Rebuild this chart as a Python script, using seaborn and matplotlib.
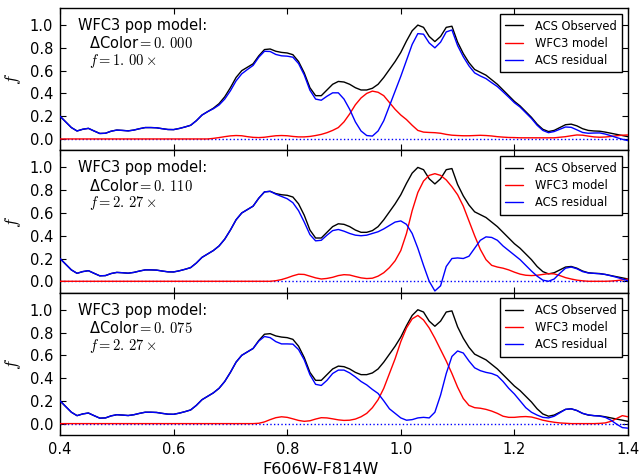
import numpy as np
import pandas as pd
import matplotlib
matplotlib.use("Agg")
import matplotlib.pyplot as plt
import seaborn as sns

# ---------------- data ----------------
color_grid = np.round(np.arange(0.40, 1.4001, 0.01), 2)

acs_observed = [
    0.20, 0.15, 0.10, 0.07, 0.085, 0.093, 0.07, 0.048, 0.05, 0.068,
    0.078, 0.075, 0.071, 0.078, 0.09, 0.10, 0.10, 0.098, 0.09, 0.083,
    0.082, 0.092, 0.105, 0.12, 0.16, 0.21, 0.24, 0.27, 0.31, 0.37,
    0.45, 0.54, 0.60, 0.63, 0.66, 0.73, 0.785, 0.79, 0.77, 0.76,
    0.755, 0.74, 0.68, 0.58, 0.45, 0.38, 0.38, 0.43, 0.48, 0.505,
    0.50, 0.48, 0.45, 0.43, 0.43, 0.445, 0.48, 0.54, 0.61, 0.68,
    0.76, 0.86, 0.95, 1.00, 0.98, 0.90, 0.855, 0.90, 0.98, 0.99,
    0.85, 0.75, 0.67, 0.61, 0.585, 0.56, 0.52, 0.48, 0.43, 0.38,
    0.33, 0.29, 0.24, 0.19, 0.13, 0.085, 0.065, 0.075, 0.10, 0.125,
    0.13, 0.115, 0.09, 0.075, 0.07, 0.068, 0.06, 0.05, 0.04, 0.03,
    0.02,
]

# panel 1: dColor = 0.000, f = 1.00
wfc3_model_1 = [0.0] * 27 + [
    0.005, 0.012, 0.02, 0.027, 0.03, 0.028, 0.02, 0.014, 0.012, 0.015,
    0.022, 0.028, 0.03, 0.028, 0.022, 0.018, 0.018, 0.022, 0.03, 0.04,
    0.055, 0.075, 0.10, 0.15, 0.22, 0.30, 0.36, 0.40, 0.42, 0.41,
    0.38, 0.32, 0.26, 0.21, 0.17, 0.12, 0.075, 0.06, 0.057, 0.055,
    0.05, 0.04, 0.033, 0.03, 0.028, 0.028, 0.03, 0.032, 0.03, 0.026,
    0.02, 0.016, 0.013, 0.012, 0.01, 0.01, 0.01, 0.01, 0.01, 0.01,
    0.01, 0.015, 0.02, 0.028, 0.035, 0.033, 0.025, 0.018, 0.015, 0.017,
    0.022, 0.028, 0.033, 0.035,
]
acs_residual_1 = acs_observed[:27] + [
    0.265, 0.298, 0.35, 0.423, 0.51, 0.572, 0.61, 0.646, 0.718, 0.77,
    0.768, 0.742, 0.73, 0.727, 0.718, 0.662, 0.562, 0.428, 0.35, 0.34,
    0.375, 0.405, 0.405, 0.35, 0.26, 0.15, 0.07, 0.03, 0.025, 0.07,
    0.16, 0.29, 0.42, 0.55, 0.69, 0.83, 0.925, 0.92, 0.843, 0.80,
    0.85, 0.94, 0.957, 0.82, 0.722, 0.642, 0.58, 0.553, 0.53, 0.494,
    0.46, 0.414, 0.367, 0.318, 0.28, 0.23, 0.18, 0.12, 0.075, 0.055,
    0.065, 0.085, 0.105, 0.102, 0.08, 0.057, 0.05, 0.052, 0.053, 0.043,
    0.028, 0.012, -0.003, -0.015,
]

# panel 2: dColor = 0.110, f = 2.27
wfc3_model_2 = [0.0] * 38 + [
    0.005, 0.015, 0.03, 0.048, 0.062, 0.06, 0.045, 0.03, 0.02, 0.025,
    0.035, 0.05, 0.058, 0.055, 0.042, 0.03, 0.024, 0.027, 0.045, 0.075,
    0.12, 0.18, 0.27, 0.42, 0.62, 0.78, 0.88, 0.93, 0.945, 0.93,
    0.89, 0.83, 0.76, 0.66, 0.53, 0.40, 0.28, 0.19, 0.14, 0.125,
    0.115, 0.10, 0.08, 0.063, 0.053, 0.05, 0.053, 0.06, 0.067, 0.065,
    0.05, 0.032, 0.02, 0.01, 0.004, 0.0, 0.0, 0.0, 0.0, 0.002,
    0.006, 0.012, 0.02,
]
acs_residual_2 = acs_observed[:38] + [
    0.765, 0.745, 0.725, 0.69, 0.62, 0.52, 0.41, 0.355, 0.36, 0.405,
    0.445, 0.455, 0.44, 0.42, 0.405, 0.40, 0.405, 0.42, 0.435, 0.46,
    0.49, 0.52, 0.53, 0.50, 0.42, 0.29, 0.14, 0.0, -0.085, -0.04,
    0.13, 0.20, 0.205, 0.20, 0.22, 0.29, 0.36, 0.39, 0.385, 0.36,
    0.31, 0.27, 0.23, 0.19, 0.14, 0.09, 0.045, 0.01, 0.0, 0.02,
    0.07, 0.115, 0.125, 0.11, 0.085, 0.073, 0.07, 0.066, 0.06, 0.048,
    0.035, 0.02, 0.005,
]

# panel 3: dColor = 0.075, f = 2.27
wfc3_model_3 = [0.0] * 35 + [
    0.003, 0.015, 0.035, 0.052, 0.06, 0.055, 0.042, 0.028, 0.02, 0.025,
    0.04, 0.052, 0.05, 0.042, 0.033, 0.028, 0.03, 0.04, 0.06, 0.09,
    0.14, 0.21, 0.31, 0.44, 0.57, 0.72, 0.84, 0.92, 0.95, 0.91,
    0.84, 0.75, 0.65, 0.55, 0.44, 0.32, 0.22, 0.16, 0.14, 0.135,
    0.125, 0.11, 0.09, 0.065, 0.055, 0.055, 0.06, 0.062, 0.058, 0.045,
    0.03, 0.02, 0.012, 0.006, 0.003, 0.0, 0.0, 0.0, 0.0, 0.0,
    0.002, 0.006, 0.02, 0.045, 0.07, 0.06,
]
acs_residual_3 = acs_observed[:35] + [
    0.725, 0.765, 0.755, 0.72, 0.70, 0.70, 0.698, 0.65, 0.56, 0.43,
    0.345, 0.335, 0.38, 0.44, 0.47, 0.47, 0.445, 0.41, 0.37, 0.34,
    0.30, 0.265, 0.20, 0.13, 0.09, 0.05, 0.03, 0.035, 0.05, 0.055,
    0.05, 0.10, 0.25, 0.44, 0.59, 0.638, 0.62, 0.55, 0.49, 0.465,
    0.45, 0.44, 0.42, 0.37, 0.31, 0.26, 0.20, 0.14, 0.10, 0.075,
    0.055, 0.05, 0.065, 0.095, 0.125, 0.13, 0.115, 0.09, 0.077, 0.07,
    0.066, 0.055, 0.03, -0.005, -0.035, -0.04,
]

models = [wfc3_model_1, wfc3_model_2, wfc3_model_3]
residuals = [acs_residual_1, acs_residual_2, acs_residual_3]
delta_colors = [r"0.\,000", r"0.\,110", r"0.\,075"]
scale_factors = [r"1.\,00", r"2.\,27", r"2.\,27"]

series_labels = ["ACS Observed", "WFC3 model", "ACS residual"]
x_ticks = [0.4, 0.6, 0.8, 1.0, 1.2, 1.4]
y_ticks = [0.0, 0.2, 0.4, 0.6, 0.8, 1.0]

# ---------------- style ----------------
sns.set_style("ticks")
plt.rcParams.update({
    "font.family": ["DejaVu Sans"],
    "mathtext.fontset": "cm",
    "text.color": "black",
    "axes.labelcolor": "black",
    "xtick.direction": "in",
    "ytick.direction": "in",
    "xtick.top": True,
    "ytick.right": True,
    "xtick.major.size": 4,
    "ytick.major.size": 4,
    "xtick.major.width": 0.8,
    "ytick.major.width": 0.8,
    "xtick.color": "black",
    "ytick.color": "black",
    "axes.edgecolor": "black",
    "axes.linewidth": 1.0,
    "xtick.labelsize": 10.5,
    "ytick.labelsize": 10.5,
})

fig, axes = plt.subplots(3, 1, figsize=(6.41, 4.76), dpi=100, sharex=True)
fig.subplots_adjust(left=60 / 641, right=628 / 641, top=1 - 8 / 476,
                    bottom=1 - 435 / 476, hspace=0)

for i, ax in enumerate(axes):
    df = pd.DataFrame({
        "color": color_grid,
        "obs": acs_observed,
        "model": models[i],
        "resid": residuals[i],
    })
    ax.axhline(0, color="blue", ls=":", lw=1.0, zorder=1)
    sns.lineplot(data=df, x="color", y="obs", color="black", lw=1.0,
                 label=series_labels[0], ax=ax, zorder=2)
    sns.lineplot(data=df, x="color", y="model", color="red", lw=1.0,
                 label=series_labels[1], ax=ax, zorder=3)
    sns.lineplot(data=df, x="color", y="resid", color="blue", lw=1.0,
                 label=series_labels[2], ax=ax, zorder=4)

    ax.set_xlim(0.4, 1.4)
    ax.set_ylim(-0.1, 1.15)
    ax.set_xticks(x_ticks)
    ax.set_yticks(y_ticks)
    ax.set_yticklabels([f"{v:.1f}" for v in y_ticks])
    ax.tick_params(axis="both", pad=5)
    ax.set_xlabel("")
    ax.set_ylabel(r"$f$", fontsize=13, va="center")
    ax.yaxis.set_label_coords(-0.082, 0.5)
    if i < 2:
        ax.tick_params(axis="x", labelbottom=False)
    else:
        ax.set_xticklabels([f"{v:.1f}" for v in x_ticks])

    leg = ax.legend(loc="upper right", fontsize=8.3, frameon=True,
                    fancybox=False, edgecolor="black", framealpha=1,
                    handlelength=1.55, handletextpad=1.0, borderpad=0.5,
                    borderaxespad=0.5, labelspacing=0.35)
    leg.get_frame().set_linewidth(1.0)

    ax.text(0.032, 0.845, "WFC3 pop model:", transform=ax.transAxes,
            fontsize=10.5, va="baseline", ha="left")
    ax.text(0.051, 0.716, "\u0394Color$=" + delta_colors[i] + "$",
            transform=ax.transAxes, fontsize=10.5, va="baseline", ha="left")
    ax.text(0.051, 0.599, r"$f=" + scale_factors[i] + r"\times$",
            transform=ax.transAxes, fontsize=10.5, va="baseline", ha="left")

fig.text(0.5, 1 - 474 / 476, "F606W-F814W", ha="center", va="baseline",
         fontsize=11.5)

fig.savefig("out.png", dpi=100)
